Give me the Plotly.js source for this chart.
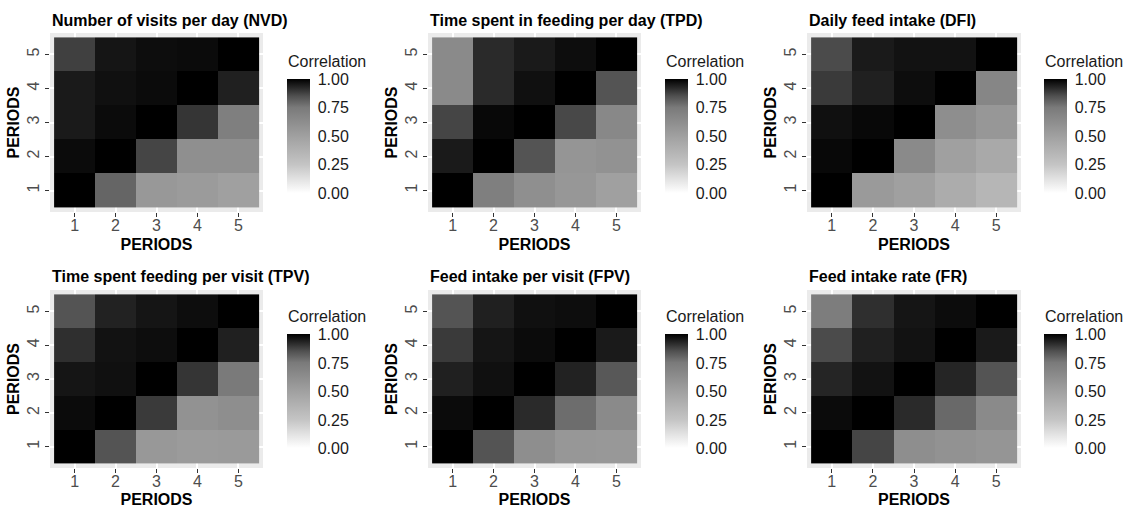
<!DOCTYPE html>
<html>
<head>
<meta charset="utf-8">
<script src="https://cdn.plot.ly/plotly-3.0.1.min.js"></script>
<style>
  html, body { margin: 0; padding: 0; background: #ffffff; }
  #chart { width: 1134px; height: 508px; }
</style>
</head>
<body>
<div id="chart"></div>
<script>
// ---- data (rows = PERIODS on y from 1 to 5, columns = PERIODS on x from 1 to 5) ----
const periods = [1, 2, 3, 4, 5];
const tickLabels = ['1', '2', '3', '4', '5'];
const colorbarTicks = [0, 0.25, 0.5, 0.75, 1];
const colorbarTickLabels = ['0.00', '0.25', '0.50', '0.75', '1.00'];
const legendTitle = 'Correlation';
const axisTitle = 'PERIODS';

const panelTitles = [
  'Number of visits per day (NVD)',
  'Time spent in feeding per day (TPD)',
  'Daily feed intake (DFI)',
  'Time spent feeding per visit (TPV)',
  'Feed intake per visit (FPV)',
  'Feed intake rate (FR)'
];

const NVD = [
  [1.00, 0.80, 0.55, 0.53, 0.50],
  [0.98, 1.00, 0.87, 0.61, 0.61],
  [0.95, 0.98, 1.00, 0.90, 0.72],
  [0.95, 0.97, 0.98, 1.00, 0.94],
  [0.88, 0.96, 0.975, 0.98, 1.00]
];
const TPD = [
  [1.00, 0.72, 0.61, 0.56, 0.50],
  [0.95, 1.00, 0.84, 0.57, 0.59],
  [0.87, 0.985, 1.00, 0.865, 0.66],
  [0.645, 0.92, 0.97, 1.00, 0.84],
  [0.645, 0.92, 0.95, 0.975, 1.00]
];
const DFI = [
  [1.00, 0.54, 0.50, 0.42, 0.35],
  [0.985, 1.00, 0.645, 0.50, 0.44],
  [0.97, 0.985, 1.00, 0.62, 0.56],
  [0.89, 0.94, 0.975, 1.00, 0.67],
  [0.86, 0.95, 0.965, 0.965, 1.00]
];
const TPV = [
  [1.00, 0.84, 0.55, 0.53, 0.54],
  [0.98, 1.00, 0.89, 0.59, 0.62],
  [0.96, 0.97, 1.00, 0.90, 0.75],
  [0.91, 0.965, 0.975, 1.00, 0.94],
  [0.84, 0.935, 0.96, 0.975, 1.00]
];
const FPV = [
  [1.00, 0.84, 0.62, 0.56, 0.55],
  [0.98, 1.00, 0.92, 0.78, 0.645],
  [0.94, 0.97, 1.00, 0.935, 0.83],
  [0.89, 0.96, 0.98, 1.00, 0.95],
  [0.84, 0.94, 0.97, 0.975, 1.00]
];
const FR = [
  [1.00, 0.87, 0.62, 0.59, 0.57],
  [0.98, 1.00, 0.92, 0.79, 0.645],
  [0.93, 0.965, 1.00, 0.93, 0.84],
  [0.86, 0.94, 0.965, 1.00, 0.95],
  [0.73, 0.91, 0.96, 0.977, 1.00]
];
const matrices = [NVD, TPD, DFI, TPV, FPV, FR];

// ---- styling ----
const W = 1134, H = 508;
const FONT = 'Liberation Sans, Arial, Helvetica, sans-serif';
const greyScale = [
  [0.00, '#ffffff'],
  [0.25, '#c4c4c4'],
  [0.50, '#a0a0a0'],
  [0.75, '#7a7a7a'],
  [0.85, '#505050'],
  [0.92, '#2a2a2a'],
  [1.00, '#000000']
];
const colPx = [[50, 263], [428, 641], [807, 1021]];
const rowPx = [[33, 212], [290, 468]];
const cbLeftPx = [287, 665, 1044];
const cbCenterPx = [136, 391.5];
const cbTitlePx = [61, 316];
const titleYPx = [20, 276];

const px2x = p => p / W;
const px2y = p => 1 - p / H;

const traces = [];
const layout = {
  width: W, height: H,
  margin: {l: 0, r: 0, t: 0, b: 0},
  paper_bgcolor: '#ffffff',
  plot_bgcolor: '#EBEBEB',
  font: {family: FONT, size: 16, color: '#1a1a1a'},
  showlegend: false,
  annotations: []
};

for (let i = 0; i < 6; i++) {
  const r = Math.floor(i / 3), c = i % 3;
  const n = i === 0 ? '' : String(i + 1);
  const ca = 'coloraxis' + n;
  traces.push({
    type: 'heatmap',
    x: periods, y: periods, z: matrices[i],
    xaxis: 'x' + n, yaxis: 'y' + n,
    coloraxis: ca,
    hovertemplate: 'x: %{x}<br>y: %{y}<br>Correlation: %{z:.2f}<extra></extra>'
  });
  layout[ca] = {
    cmin: 0, cmax: 1,
    colorscale: greyScale,
    colorbar: {
      x: px2x(cbLeftPx[c]), xanchor: 'left', xpad: 0,
      y: px2y(cbCenterPx[r]), yanchor: 'middle', ypad: 0,
      len: 114, lenmode: 'pixels',
      thickness: 23, thicknessmode: 'pixels',
      outlinewidth: 0,
      tickmode: 'array', tickvals: colorbarTicks, ticktext: colorbarTickLabels,
      ticks: 'outside', ticklen: 5, tickcolor: '#ffffff', tickwidth: 1,
      tickfont: {family: FONT, size: 16, color: '#1a1a1a'}
    }
  };
  layout['xaxis' + n] = {
    domain: [px2x(colPx[c][0]), px2x(colPx[c][1])],
    anchor: 'y' + n,
    range: [0.4, 5.6],
    tickmode: 'array', tickvals: periods, ticktext: tickLabels,
    ticks: 'outside', ticklen: 4, tickcolor: '#333333', tickwidth: 1,
    ticklabelstandoff: -5,
    tickfont: {family: FONT, size: 16, color: '#4d4d4d'},
    showgrid: true, gridcolor: '#ffffff', gridwidth: 1.5,
    zeroline: false, showline: false, fixedrange: true,
    title: {text: '<b>' + axisTitle + '</b>', standoff: 5, font: {family: FONT, size: 16, color: '#000000'}}
  };
  layout['yaxis' + n] = {
    domain: [px2y(rowPx[r][1]), px2y(rowPx[r][0])],
    anchor: 'x' + n,
    range: [0.37, 5.63],
    tickmode: 'array', tickvals: periods, ticktext: tickLabels,
    tickangle: -90,
    ticks: 'outside', ticklen: 4, tickcolor: '#333333', tickwidth: 1,
    tickfont: {family: FONT, size: 16, color: '#4d4d4d'},
    showgrid: true, gridcolor: '#ffffff', gridwidth: 1.5,
    zeroline: false, showline: false, fixedrange: true,
    title: {text: '<b>' + axisTitle + '</b>', standoff: 0, font: {family: FONT, size: 16, color: '#000000'}}
  };
  layout.annotations.push({
    xref: 'paper', yref: 'paper',
    x: px2x(colPx[c][0]), y: px2y(titleYPx[r]),
    xanchor: 'left', yanchor: 'middle',
    text: '<b>' + panelTitles[i] + '</b>',
    showarrow: false,
    font: {family: FONT, size: 16, color: '#000000'}
  });
  layout.annotations.push({
    xref: 'paper', yref: 'paper',
    x: px2x(cbLeftPx[c] - 1), y: px2y(cbTitlePx[r]),
    xanchor: 'left', yanchor: 'middle',
    text: legendTitle,
    showarrow: false,
    font: {family: FONT, size: 16, color: '#1a1a1a'}
  });
}

Plotly.newPlot('chart', traces, layout, {displayModeBar: false, staticPlot: false});
</script>
</body>
</html>
